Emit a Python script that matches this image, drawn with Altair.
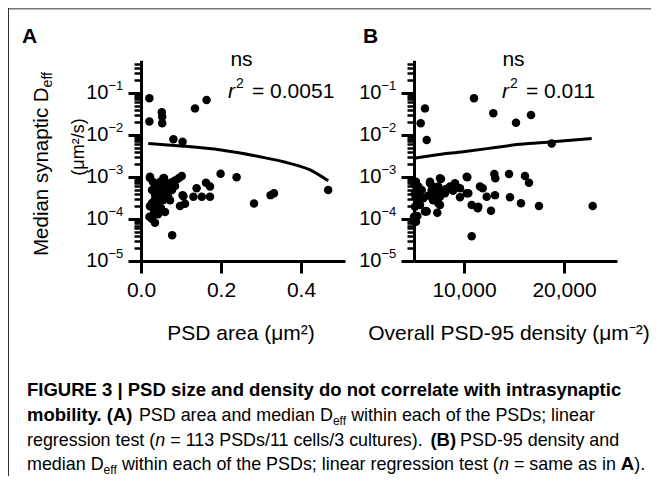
import altair as alt
import pandas as pd

# ---------------- data ----------------
A_area = [0.021, 0.021, 0.052, 0.053, 0.053, 0.135, 0.164, 0.081, 0.104,
          0.199, 0.239, 0.102, 0.056, 0.0225, 0.081, 0.1625, 0.139, 0.1725, 0.1725,
          0.152, 0.131, 0.106, 0.0975, 0.11, 0.078, 0.035, 0.021, 0.2825, 0.324,
          0.3325, 0.468, 0.104,
          0.0225, 0.03, 0.0375, 0.0275, 0.0425, 0.0525, 0.0625, 0.0725, 0.06, 0.0475,
          0.035, 0.0275, 0.04, 0.055, 0.0675, 0.0775, 0.085, 0.0725, 0.05, 0.0325,
          0.0225, 0.0425, 0.0275, 0.06, 0.0675, 0.0875, 0.095, 0.0475, 0.0575, 0.035]
A_deff = [0.075, 0.021, 0.035, 0.027, 0.019, 0.043, 0.068, 0.0079, 0.0069,
          0.0012, 0.00098, 0.00106, 0.00093, 0.00102, 0.00078, 0.00073, 0.00054, 0.00059, 0.00034,
          0.00034, 0.00034, 0.00035, 0.000205, 0.00023, 0.000041, 0.000081, 0.000113, 0.000235, 0.00037,
          0.00041, 0.00049, 0.00037,
          0.00095, 0.00076, 0.00061, 0.00049, 0.00044, 0.00055, 0.00065, 0.00072, 0.00044, 0.00035,
          0.0003, 0.00024, 0.000215, 0.00028, 0.00035, 0.00049, 0.00061, 0.00028, 0.00018, 0.000155,
          0.0002, 0.00013, 0.0001, 0.000147, 0.00049, 0.00085, 0.00095, 0.00076, 0.00095, 0.00039]

B_density = [6100, 5670, 6270, 11000, 12930, 15200, 16700, 18770,
             5200, 6600, 7700, 9200, 10330, 11870, 13030, 13130, 14500, 16100, 16500,
             6600, 7330, 7600, 8100, 7600, 7330, 6200, 5600, 5430, 5200, 5330,
             9600, 10270, 10770, 11370, 12270, 12700, 13100, 14600, 15700, 17500, 22870, 10770,
             5430, 5100, 5770, 5930, 5100, 5000, 6100, 6770, 7100, 7600, 7430, 8600,
             9100, 9600, 10270, 10430, 11430, 11600, 7600, 7930, 7430, 6270,
             5050, 5150, 5300, 5000, 5500, 6400, 6900, 7000, 8200, 8900]
B_deff = [0.043, 0.019, 0.0076, 0.075, 0.033, 0.0196, 0.030, 0.0063,
          0.00077, 0.00077, 0.00089, 0.00059, 0.00098, 0.00054, 0.00118, 0.00093, 0.00118, 0.00106, 0.00073,
          0.00071, 0.00041, 0.00049, 0.00041, 0.000215, 0.000141, 0.000155, 0.000215, 0.00028, 0.000086, 0.000118,
          0.00033, 0.00041, 0.000215, 0.00018, 0.00034, 0.000158, 0.00037, 0.00033, 0.000237, 0.000204, 0.000204, 0.000039,
          0.00059, 0.00041, 0.00049, 0.00031, 0.000196, 0.000113, 0.00015, 0.00049, 0.00041, 0.00093, 0.00059, 0.00059,
          0.00071, 0.00054, 0.00102, 0.00041, 0.000196, 0.00059, 0.00034, 0.00045, 0.000237, 0.00015,
          0.00065, 0.00035, 0.00052, 0.00009, 0.00038, 0.00036, 0.00028, 0.00058, 0.00052, 0.00047]

A_fit_area = [0.018, 0.1, 0.2, 0.3, 0.356, 0.4225, 0.468]
A_fit_deff = [0.0063, 0.0055, 0.0044, 0.0030, 0.0023, 0.00147, 0.00081]
B_fit_density = [5000, 7000, 9930, 12500, 15270, 18000, 22770]
B_fit_deff = [0.0028, 0.0033, 0.0040, 0.0048, 0.0059, 0.0066, 0.0083]

Y_MAJOR = [1e-5, 1e-4, 1e-3, 1e-2, 1e-1]
Y_BASE = ["10", "10", "10", "10", "10"]
Y_SUP = ["−5", "−4", "−3", "−2", "−1"]
Y_MINOR = [k * 10.0 ** d for d in range(-5, 0) for k in range(2, 10) if k * 10.0 ** d <= 0.6]
A_XTICKS = [0.0, 0.2, 0.4]
B_XTICKS = [10000, 20000]

FONT = "Liberation Sans"
OX, OY = 141, 8  # page position of the view origin


def vx(x):
    return x - OX


def vy(y):
    return y - OY


dfA = pd.DataFrame({"area": A_area, "deff": A_deff})
dfB = pd.DataFrame({"dens": B_density, "deff": B_deff})
fitA = pd.DataFrame({"area": A_fit_area, "deff": A_fit_deff})
fitB = pd.DataFrame({"dens": B_fit_density, "deff": B_fit_deff})
ylab = pd.DataFrame({"deff": Y_MAJOR, "base": Y_BASE, "sup": Y_SUP})
dummy = pd.DataFrame({"k": [0]})

yscale = alt.Scale(type="log", domain=[1e-5, 0.6], range=[253, 52.3], nice=False)
xA = alt.Scale(domain=[0, 0.51], range=[0, 204], nice=False, zero=False)
xB = alt.Scale(domain=[5000, 25300], range=[273, 476], nice=False, zero=False)


def y_major(offset):
    return alt.Axis(orient="left", values=Y_MAJOR, labels=False, tickSize=13, tickWidth=3,
                    domainWidth=3, domainColor="black", tickColor="black", title=None, grid=False,
                    offset=offset)


def y_minor(offset):
    return alt.Axis(orient="left", values=Y_MINOR, labels=False, tickSize=7, tickWidth=2.5,
                    tickColor="black", domain=False, title=None, grid=False, offset=offset)


def x_axis(values, fmt):
    return alt.Axis(orient="bottom", values=values, format=fmt, tickSize=12, tickWidth=3,
                    domainWidth=3, domainColor="black", tickColor="black", labelFont=FONT,
                    labelFontSize=21, labelColor="black", labelPadding=6, title=None, grid=False,
                    labelFlush=False, labelOverlap=False)


def panel(df, fit, xfield, xscale, xvals, xfmt, axis_x):
    offset = -axis_x
    pts = alt.Chart(df).mark_circle(size=72, color="black", opacity=1).encode(
        x=alt.X(f"{xfield}:Q", scale=xscale, axis=x_axis(xvals, xfmt)),
        y=alt.Y("deff:Q", scale=yscale, axis=y_major(offset)),
    )
    line = alt.Chart(fit).mark_line(color="black", strokeWidth=3, interpolate="monotone").encode(
        x=alt.X(f"{xfield}:Q", scale=xscale, axis=None),
        y=alt.Y("deff:Q", scale=yscale, axis=None),
    )
    minor = alt.Chart(df).mark_circle(opacity=0).encode(
        y=alt.Y("deff:Q", scale=yscale, axis=y_minor(offset)),
    )
    lab_base = alt.Chart(ylab).mark_text(
        font=FONT, fontSize=20, align="right", baseline="middle", color="black"
    ).encode(
        x=alt.value(axis_x - 32.5),
        y=alt.Y("deff:Q", scale=yscale, axis=None),
        text="base:N",
    )
    lab_sup = alt.Chart(ylab).mark_text(
        font=FONT, fontSize=13, align="left", baseline="middle", dy=-7, color="black"
    ).encode(
        x=alt.value(axis_x - 32.5),
        y=alt.Y("deff:Q", scale=yscale, axis=None),
        text="sup:N",
    )
    return alt.layer(pts, line, minor, lab_base, lab_sup).resolve_axis(x="independent", y="independent")


panelA = panel(dfA, fitA, "area", xA, A_XTICKS, ".1f", 0)
panelB = panel(dfB, fitB, "dens", xB, B_XTICKS, ",d", 273)


def txt(s, x, y, size=21, weight="normal", style="normal", angle=0, align="left"):
    return alt.Chart(dummy).mark_text(
        text=s, fontSize=size, fontWeight=weight, fontStyle=style, angle=angle, align=align,
        baseline="alphabetic", font=FONT, color="black"
    ).encode(x=alt.value(vx(x)), y=alt.value(vy(y)))


texts = [
    # panel letters
    txt("A", 22, 43, 21, "bold"),
    txt("B", 363, 43, 21, "bold"),
    # stats
    txt("ns", 241.5, 66, 21, align="center"),
    txt("r", 228, 98, 21, style="italic"),
    txt("2", 236, 88, 14),
    txt("= 0.0051", 252, 98, 21),
    txt("ns", 513.5, 66, 21, align="center"),
    txt("r", 502, 98, 21, style="italic"),
    txt("2", 510, 88, 14),
    txt("= 0.011", 526, 98, 21),
    # axis titles
    txt("Median synaptic D", 48, 256, 20.5, angle=270),
    txt("eff", 52, 87.4, 14, angle=270),
    txt("(μm²/s)", 83.5, 147, 18, angle=270, align="center"),
    txt("PSD area (μm²)", 241, 340, 21, align="center"),
    txt("Overall PSD-95 density (μm⁻²)", 509, 340, 21, align="center"),
]

# caption (x in page pixels, segment starts follow the text widths)
R, B, S = 17.9, 18.5, 12
L0 = 27
Y1, Y2, Y3, Y4 = 396, 421, 446, 470
cap = [
    txt("FIGURE 3 | PSD size and density do not correlate with intrasynaptic", L0, Y1, B, "bold"),
    txt("mobility. (A)", L0, Y2, B, "bold"),
    txt("PSD area and median D", L0 + 111.9, Y2, R),
    txt("eff", L0 + 305.9, Y2 + 4, S),
    txt("within each of the PSDs; linear", L0 + 324.2, Y2, R),
    txt("regression test (", L0, Y3, R),
    txt("n", L0 + 128.3, Y3, R, style="italic"),
    txt("= 113 PSDs/11 cells/3 cultures).", L0 + 143.3, Y3, R),
    txt("(B)", L0 + 403.4, Y3, B, "bold"),
    txt("PSD-95 density and", L0 + 433.1, Y3, R),
    txt("median D", L0, Y4, R),
    txt("eff", L0 + 76.6, Y4 + 4, S),
    txt("within each of the PSDs; linear regression test (", L0 + 94.9, Y4, R),
    txt("n", L0 + 471.9, Y4, R, style="italic"),
    txt("= same as in", L0 + 486.9, Y4, R),
    txt("A", L0 + 593.8, Y4, B, "bold"),
    txt(").", L0 + 607.2, Y4, R),
]

border_top = alt.Chart(dummy).mark_rule(color="#777777", strokeWidth=1.5).encode(
    x=alt.value(vx(8)), x2=alt.value(vx(660)), y=alt.value(0.75))
border_left = alt.Chart(dummy).mark_rule(color="#333333", strokeWidth=1).encode(
    x=alt.value(vx(8.5)), y=alt.value(0), y2=alt.value(vy(484)))

chart = alt.layer(panelA, panelB, border_top, border_left, *texts, *cap).resolve_scale(
    x="independent", y="independent"
).properties(
    width=476, height=253,
    padding={"left": 133, "top": 0, "right": 34, "bottom": 215},
    autosize=alt.AutoSizeParams(type="none"),
).configure_view(stroke=None)

chart.save("out.html", embed_options={"renderer": "svg", "actions": False})
